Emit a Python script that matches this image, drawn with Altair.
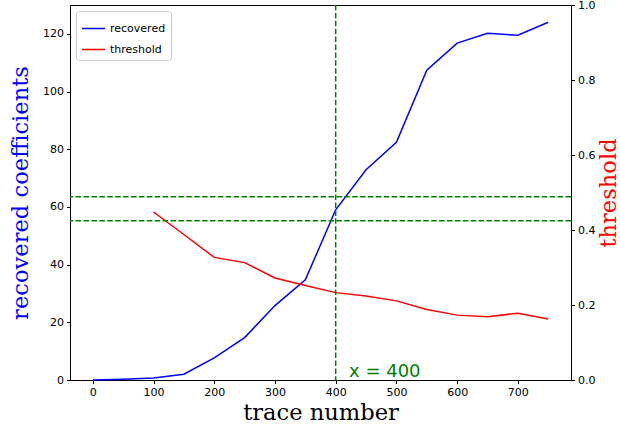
import altair as alt
import pandas as pd

# ---- data ----
trace_x = [0, 50, 100, 150, 200, 250, 300, 350, 400, 450, 500, 550, 600, 650, 700, 750]
recovered = [0.0, 0.3, 0.7, 2.0, 7.7, 14.7, 25.8, 34.7, 59.0, 72.9, 82.4, 107.4, 116.8, 120.2, 119.5, 124.0]
thr_x = [100, 150, 200, 250, 300, 350, 400, 450, 500, 550, 600, 650, 700, 750]
threshold = [0.448, 0.388, 0.327, 0.313, 0.272, 0.252, 0.233, 0.224, 0.211, 0.188, 0.173, 0.169, 0.178, 0.1625]
hlines = [63.5, 55.2]
vline = [400]
label_text = ["x = 400"]
label_pos = [(422, 1.2)]
x_ticks = [0, 100, 200, 300, 400, 500, 600, 700]
left_ticks = [0, 20, 40, 60, 80, 100, 120]
right_ticks = [0.0, 0.2, 0.4, 0.6, 0.8, 1.0]

df_rec = pd.DataFrame({"x": trace_x, "v": recovered, "series": "recovered"})
df_thr = pd.DataFrame({"x": thr_x, "v": threshold, "series": "threshold"})
df_h = pd.DataFrame({"y": hlines})
df_v = pd.DataFrame({"x": vline})
df_t = pd.DataFrame({"x": [p[0] for p in label_pos], "y": [p[1] for p in label_pos], "t": label_text})

XDOM = [-37.5, 787.5]
LDOM = [0, 130]
RDOM = [0, 1]

tick_font = "DejaVu Sans"
title_font = "DejaVu Serif"
TSIZE = 22.6

x_enc = alt.X("x:Q", scale=alt.Scale(domain=XDOM, nice=False, zero=False),
              axis=alt.Axis(values=x_ticks, title="trace number", titleFont=title_font,
                            titleFontSize=TSIZE, titleFontWeight="normal", titleColor="black",
                            titlePadding=4))

color = alt.Color("series:N",
                  scale=alt.Scale(domain=["recovered", "threshold"], range=["#0000ff", "#ff0000"]),
                  legend=alt.Legend(title=None, orient="top-left", offset=6,
                                    symbolType="stroke", symbolSize=529, symbolStrokeWidth=1.5,
                                    labelFont=tick_font, labelFontSize=11, labelColor="black",
                                    strokeColor="#cccccc", fillColor="white", padding=5,
                                    cornerRadius=3, rowPadding=3))

blue = alt.Chart(df_rec).mark_line(strokeWidth=1.5).encode(
    x=x_enc,
    y=alt.Y("v:Q", scale=alt.Scale(domain=LDOM, nice=False),
            axis=alt.Axis(orient="left", values=left_ticks, title="recovered coefficients",
                          titleFont=title_font, titleFontSize=TSIZE, titleFontWeight="normal",
                          titleColor="#0000ff", titlePadding=10)),
    color=color,
)

red = alt.Chart(df_thr).mark_line(strokeWidth=1.5).encode(
    x=x_enc,
    y=alt.Y("v:Q", scale=alt.Scale(domain=RDOM, nice=False),
            axis=alt.Axis(orient="right", values=right_ticks, format=".1f", title="threshold",
                          titleFont=title_font, titleFontSize=TSIZE, titleFontWeight="normal",
                          titleColor="#ff0000", titlePadding=3, titleAngle=270,
                          titleBaseline="top")),
    color=color,
)

hrule = alt.Chart(df_h).mark_rule(color="#008000", strokeWidth=1.5, strokeDash=[5.5, 2.4]).encode(
    y=alt.Y("y:Q", scale=alt.Scale(domain=LDOM, nice=False), axis=None),
)

vrule = alt.Chart(df_v).mark_rule(color="#008000", strokeWidth=1.5, strokeDash=[5.5, 2.4]).encode(
    x=x_enc,
)

txt = alt.Chart(df_t).mark_text(align="left", baseline="alphabetic", font=tick_font,
                                fontSize=18, color="#008000").encode(
    x=x_enc,
    y=alt.Y("y:Q", scale=alt.Scale(domain=LDOM, nice=False), axis=None),
    text="t:N",
)

chart = alt.layer(blue, red, hrule, vrule, txt).resolve_scale(y="independent").properties(
    width=501, height=375,
    autosize=alt.AutoSizeParams(type="none"),
    padding={"left": 70, "top": 5, "right": 49, "bottom": 51},
    background="white",
).configure_view(stroke="black", strokeWidth=1).configure_axis(
    grid=False, domainColor="black", tickColor="black", tickSize=3.5,
    labelFont=tick_font, labelFontSize=11, labelColor="black", labelPadding=3,
    domainWidth=1, tickWidth=1,
)

chart.save("out.html", embed_options={"renderer": "svg", "actions": False})
